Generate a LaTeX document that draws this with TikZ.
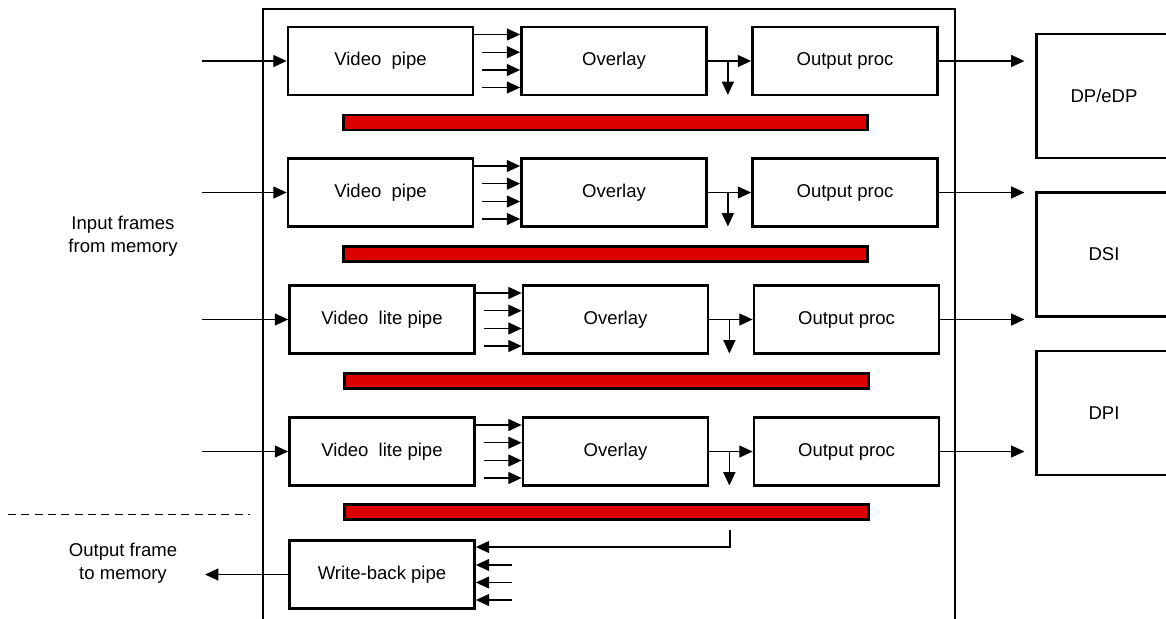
\documentclass[tikz,border=0pt]{standalone}
\usepackage{fontspec}
\setmainfont{Liberation Sans}
\usetikzlibrary{arrows.meta,calc}
\definecolor{barred}{HTML}{DD0000}
\begin{document}
\begin{tikzpicture}[x=0.75pt,y=-0.75pt,
  txt/.style={font=\fontsize{13.9}{17.25}\selectfont},
  box/.style={draw,line width=1.8pt,minimum width=139pt,minimum height=51pt,inner sep=0pt,txt},
  disp/.style={draw,line width=1.8pt,minimum width=101pt,minimum height=93pt,inner sep=0pt,txt},
  bar/.style={draw,line width=1.8pt,fill=barred,minimum width=393pt,minimum height=11.3pt,inner sep=0pt},
  conn/.style={line width=0.95pt,-{Triangle[length=10pt,width=9pt]}},
  frame/.style={line width=1.5pt},
  lbl/.style={align=center,txt}]
\useasboundingbox (0,0) rectangle (1166,618);
\clip (0,0) rectangle (1166,618);
% outer frame
\coordinate (fbl) at (263,630);
\coordinate (ftl) at (263,8.5);
\coordinate (ftr) at (955,8.5);
\coordinate (fbr) at (955,630);
\draw[frame] (fbl) -- (ftl) -- (ftr) -- (fbr);
% displays
\node[disp] (dp) at (1104,96) {DP/eDP};
\node[disp] (dsi) at (1104,254.5) {DSI};
\node[disp] (dpi) at (1104,413) {DPI};
% rows
\foreach \i/\cy/\dx/\t/\d in {1/61/0/{Video\ \ pipe}/dp, 2/192.5/0/{Video\ \ pipe}/dsi, 3/319.5/1.5/{Video\ \ lite pipe}/dsi, 4/451.5/1.5/{Video\ \ lite pipe}/dpi}{
  \node[box] (vp\i) at (380.5+\dx,\cy) {\t};
  \node[box] (ov\i) at (614+\dx,\cy) {Overlay};
  \node[box] (op\i) at (845+\dx,\cy) {Output proc};
  \coordinate (in\i) at (202,\cy);
  \draw[conn] (in\i) -- (vp\i.west);
  \draw[conn] ($(vp\i.east)+(0,-26.5)$) -- ($(ov\i.west)+(0,-26.5)$);
  \foreach \o in {-8.8,9,26.5}{
    \draw[conn] ($(vp\i.east)+(8,\o)$) -- ($(ov\i.west)+(0,\o)$);
  }
  \draw[conn] (ov\i) -- (op\i);
  \coordinate (br\i) at ($(ov\i.east)+(20,0)$);
  \draw[conn] (br\i) -- ++(0,34);
  \draw[conn,shorten >=8.25pt] (op\i) -- (op\i.east -| \d.west);
}
% red bars
\node[bar] (bar1) at (605.5,122.5) {};
\node[bar] (bar2) at (605.5,254) {};
\node[bar] (bar3) at (606.5,381) {};
\node[bar] (bar4) at (606.5,512) {};
% labels
\node[lbl] (inlbl) at (123,236.5) {Input frames\\from memory};
\node[lbl] (outlbl) at (123,563) {Output frame\\to memory};
% dashed separator
\coordinate (dsa) at (8,514);
\coordinate (dsb) at (250,514);
\draw[line width=0.75pt,dash pattern=on 6pt off 4pt] (dsa) -- (dsb);
% write-back
\node[box] (wb) at (382,574.5) {Write-back pipe};
\coordinate (fb) at (730,530);
\draw[conn] (fb) |- ($(wb.east)+(0,-27.5)$);
\foreach \o in {-9.5,8,25.5}{
  \draw[conn] ($(wb.east)+(36,\o)$) -- ($(wb.east)+(0,\o)$);
}
\coordinate (outend) at (205,574.5);
\draw[conn] (wb.west) -- (outend);
\end{tikzpicture}
\end{document}
